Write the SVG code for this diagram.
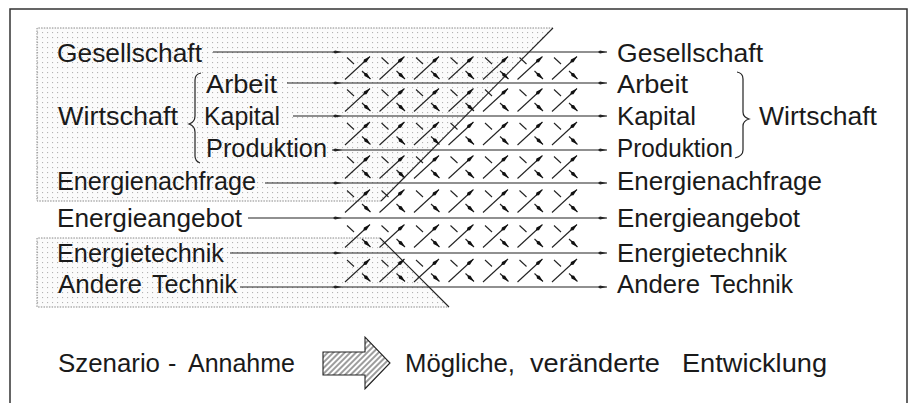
<svg xmlns="http://www.w3.org/2000/svg" xmlns:xlink="http://www.w3.org/1999/xlink" width="912" height="403" viewBox="0 0 912 403">
<style>
text{font-family:"Liberation Sans",Arial,sans-serif;font-size:25px;fill:#1a1a1a}
.ln{stroke:#222;stroke-width:1.1;fill:none}
.ha{stroke:#222;stroke-width:1.1;fill:none;marker-end:url(#ah)}
.xa{stroke:#222;stroke-width:1.1;fill:none;marker-end:url(#xh)}
.edge{stroke:#888;stroke-width:1;fill:none;stroke-dasharray:1.5 1.2}
.diag{stroke:#222;stroke-width:1.1;fill:none}
.brace{stroke:#222;stroke-width:1.2;fill:none}
</style>
<defs>
<pattern id="dots" patternUnits="userSpaceOnUse" width="5" height="5">
<rect width="5" height="5" fill="#fbfbfb"/>
<rect x="2" y="2" width="1.1" height="1.1" fill="#b4b4b4"/>
</pattern>
<pattern id="hatch" patternUnits="userSpaceOnUse" width="4" height="4" patternTransform="rotate(45)">
<rect width="4" height="4" fill="#fff"/>
<line x1="1" y1="0" x2="1" y2="4" stroke="#222" stroke-width="0.9"/>
</pattern>
<marker id="ah" viewBox="0 0 9 5" refX="9" refY="2.5" markerWidth="9" markerHeight="5" markerUnits="userSpaceOnUse" orient="auto">
<path d="M0,2.5 L2,1 L9,2.5 L2,4 Z" fill="#222"/>
</marker>
<marker id="xh" viewBox="0 0 9 5" refX="9" refY="2.5" markerWidth="9" markerHeight="5" markerUnits="userSpaceOnUse" orient="auto">
<path d="M0,2.5 L2.5,0.6 L9,2.5 L2.5,4.4 Z" fill="#111"/>
</marker>
<g id="xx">
<line class="xa" x1="-13" y1="12" x2="12" y2="-11"/>
<line class="ln" x1="-11" y1="-10" x2="-4" y2="-3.5"/>
<line class="xa" x1="4" y1="3.5" x2="12.5" y2="11.5"/>
</g>
</defs>
<rect width="912" height="403" fill="#fff"/>
<path d="M10,404 V9 H907 V404" fill="none" stroke="#333" stroke-width="1.5"/>

<g id="scenario-upper">
<polygon points="37,28 553,28 381,201 37,201" fill="url(#dots)"/>
<polyline class="edge" points="381,201 37,201 37,28 553,28"/>
<line class="diag" x1="553" y1="28" x2="381" y2="201"/>
</g>
<g id="scenario-lower">
<polygon points="37,238 380,238 449,307 37,307" fill="url(#dots)"/>
<polyline class="edge" points="380,238 37,238 37,307 449,307"/>
<line class="diag" x1="380" y1="238" x2="449" y2="307"/>
</g>

<g id="connectors">
<line class="ha" x1="213" y1="52" x2="342" y2="52"/><line class="ha" x1="342" y1="52" x2="607" y2="52"/>
<line class="ha" x1="287" y1="83" x2="342" y2="83"/><line class="ha" x1="342" y1="83" x2="607" y2="83"/>
<line class="ha" x1="293" y1="116" x2="342" y2="116"/><line class="ha" x1="342" y1="116" x2="607" y2="116"/>
<line class="ha" x1="332" y1="150" x2="342" y2="150"/><line class="ha" x1="342" y1="150" x2="607" y2="150"/>
<line class="ha" x1="265" y1="183" x2="342" y2="183"/><line class="ha" x1="342" y1="183" x2="607" y2="183"/>
<line class="ha" x1="248" y1="218" x2="342" y2="218"/><line class="ha" x1="342" y1="218" x2="607" y2="218"/>
<line class="ha" x1="230" y1="253" x2="342" y2="253"/><line class="ha" x1="342" y1="253" x2="607" y2="253"/>
<line class="ha" x1="240" y1="287" x2="342" y2="287"/><line class="ha" x1="342" y1="287" x2="607" y2="287"/>
</g>

<g id="interactions">
<use xlink:href="#xx" x="358" y="67.5"/><use xlink:href="#xx" x="392.5" y="67.5"/><use xlink:href="#xx" x="427" y="67.5"/><use xlink:href="#xx" x="461.5" y="67.5"/><use xlink:href="#xx" x="496" y="67.5"/><use xlink:href="#xx" x="530.5" y="67.5"/><use xlink:href="#xx" x="565" y="67.5"/>
<use xlink:href="#xx" x="358" y="99.5"/><use xlink:href="#xx" x="392.5" y="99.5"/><use xlink:href="#xx" x="427" y="99.5"/><use xlink:href="#xx" x="461.5" y="99.5"/><use xlink:href="#xx" x="496" y="99.5"/><use xlink:href="#xx" x="530.5" y="99.5"/><use xlink:href="#xx" x="565" y="99.5"/>
<use xlink:href="#xx" x="358" y="133"/><use xlink:href="#xx" x="392.5" y="133"/><use xlink:href="#xx" x="427" y="133"/><use xlink:href="#xx" x="461.5" y="133"/><use xlink:href="#xx" x="496" y="133"/><use xlink:href="#xx" x="530.5" y="133"/><use xlink:href="#xx" x="565" y="133"/>
<use xlink:href="#xx" x="358" y="166.5"/><use xlink:href="#xx" x="392.5" y="166.5"/><use xlink:href="#xx" x="427" y="166.5"/><use xlink:href="#xx" x="461.5" y="166.5"/><use xlink:href="#xx" x="496" y="166.5"/><use xlink:href="#xx" x="530.5" y="166.5"/><use xlink:href="#xx" x="565" y="166.5"/>
<use xlink:href="#xx" x="358" y="200.5"/><use xlink:href="#xx" x="392.5" y="200.5"/><use xlink:href="#xx" x="427" y="200.5"/><use xlink:href="#xx" x="461.5" y="200.5"/><use xlink:href="#xx" x="496" y="200.5"/><use xlink:href="#xx" x="530.5" y="200.5"/><use xlink:href="#xx" x="565" y="200.5"/>
<use xlink:href="#xx" x="358" y="235.5"/><use xlink:href="#xx" x="392.5" y="235.5"/><use xlink:href="#xx" x="427" y="235.5"/><use xlink:href="#xx" x="461.5" y="235.5"/><use xlink:href="#xx" x="496" y="235.5"/><use xlink:href="#xx" x="530.5" y="235.5"/><use xlink:href="#xx" x="565" y="235.5"/>
<use xlink:href="#xx" x="358" y="270"/><use xlink:href="#xx" x="392.5" y="270"/><use xlink:href="#xx" x="427" y="270"/><use xlink:href="#xx" x="461.5" y="270"/><use xlink:href="#xx" x="496" y="270"/><use xlink:href="#xx" x="530.5" y="270"/><use xlink:href="#xx" x="565" y="270"/>
</g>

<g id="left-labels">
<g id="l-gesellschaft"><text x="57" y="62" textLength="145" lengthAdjust="spacingAndGlyphs">Gesellschaft</text></g>
<g id="l-wirtschaft"><text x="58" y="125" textLength="120" lengthAdjust="spacingAndGlyphs">Wirtschaft</text>
<path class="brace" d="M201,73 Q195,74 195,80 L195,116 Q195,122 189,124 Q195,126 195,132 L195,156 Q195,161 200,163"/></g>
<g id="l-arbeit"><text x="206" y="93" textLength="71" lengthAdjust="spacingAndGlyphs">Arbeit</text></g>
<g id="l-kapital"><text x="204" y="125" textLength="76" lengthAdjust="spacingAndGlyphs">Kapital</text></g>
<g id="l-produktion"><text x="206" y="157" textLength="121" lengthAdjust="spacingAndGlyphs">Produktion</text></g>
<g id="l-energienachfrage"><text x="57" y="190" textLength="199" lengthAdjust="spacingAndGlyphs">Energienachfrage</text></g>
<g id="l-energieangebot"><text x="57" y="227" textLength="185" lengthAdjust="spacingAndGlyphs">Energieangebot</text></g>
<g id="l-energietechnik"><text x="57" y="262" textLength="167" lengthAdjust="spacingAndGlyphs">Energietechnik</text></g>
<g id="l-andere-technik"><text y="293"><tspan x="58" textLength="84" lengthAdjust="spacingAndGlyphs">Andere</tspan><tspan x="152" textLength="85" lengthAdjust="spacingAndGlyphs">Technik</tspan></text></g>
</g>

<g id="right-labels">
<g id="r-gesellschaft"><text x="617" y="62" textLength="146" lengthAdjust="spacingAndGlyphs">Gesellschaft</text></g>
<g id="r-arbeit"><text x="617" y="93" textLength="71" lengthAdjust="spacingAndGlyphs">Arbeit</text></g>
<g id="r-kapital"><text x="617" y="125" textLength="79" lengthAdjust="spacingAndGlyphs">Kapital</text></g>
<g id="r-produktion"><text x="617" y="157" textLength="116" lengthAdjust="spacingAndGlyphs">Produktion</text></g>
<g id="r-wirtschaft"><text x="759" y="125" textLength="118" lengthAdjust="spacingAndGlyphs">Wirtschaft</text>
<path class="brace" d="M737,72 Q743,73 743,79 L743,112 Q743,117 749,119 Q743,121 743,126 L743,150 Q743,156 735,158"/></g>
<g id="r-energienachfrage"><text x="617" y="190" textLength="205" lengthAdjust="spacingAndGlyphs">Energienachfrage</text></g>
<g id="r-energieangebot"><text x="617" y="227" textLength="183" lengthAdjust="spacingAndGlyphs">Energieangebot</text></g>
<g id="r-energietechnik"><text x="617" y="262" textLength="170" lengthAdjust="spacingAndGlyphs">Energietechnik</text></g>
<g id="r-andere-technik"><text y="293"><tspan x="617" textLength="83" lengthAdjust="spacingAndGlyphs">Andere</tspan><tspan x="710" textLength="83" lengthAdjust="spacingAndGlyphs">Technik</tspan></text></g>
</g>

<g id="legend">
<text y="372"><tspan x="58" textLength="102" lengthAdjust="spacingAndGlyphs">Szenario</tspan><tspan x="168">-</tspan><tspan x="188" textLength="107" lengthAdjust="spacingAndGlyphs">Annahme</tspan></text>
<polygon points="323,352 365,352 365,337 390,363 365,389 365,375 323,375" fill="url(#hatch)" stroke="#222" stroke-width="1.1"/>
<text y="372"><tspan x="405" textLength="110" lengthAdjust="spacingAndGlyphs">Mögliche,</tspan><tspan x="530" textLength="130" lengthAdjust="spacingAndGlyphs">veränderte</tspan><tspan x="682" textLength="145" lengthAdjust="spacingAndGlyphs">Entwicklung</tspan></text>
</g>
</svg>
